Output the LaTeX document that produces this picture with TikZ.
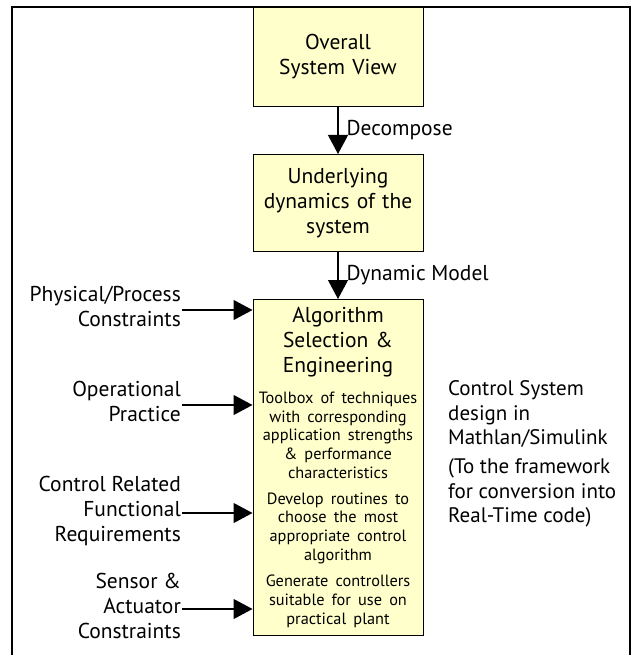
\documentclass[tikz,border=0pt]{standalone}
\usepackage{fontspec}
\setmainfont{PT Sans}
\usetikzlibrary{arrows.meta, positioning}
\definecolor{boxfill}{RGB}{255,255,204}
\newcommand{\bigfont}{\fontsize{21.5}{25}\selectfont}
\newcommand{\smallfont}{\fontsize{16.3}{18.7}\selectfont}
\newcommand{\notefont}{\fontsize{21}{24.5}\selectfont}
\tikzset{
  block/.style = {rectangle, draw=black, line width=1pt, fill=boxfill, align=center, text width=166pt, inner sep=2pt, font=\bigfont},
  line/.style = {-{Triangle[length=19pt,width=20pt]}, line width=1.2pt},
  sidelabel/.style = {align=right, font=\bigfont, inner sep=1pt, anchor=east},
  note/.style = {align=left, font=\notefont, inner sep=0pt, anchor=west},
  arrowlabel/.style = {right=6pt, font=\bigfont, inner sep=2pt},
  frame/.style = {line width=1.5pt}
}

\begin{document}
\begin{tikzpicture}[x=1pt, y=-1pt]
\useasboundingbox (0,0) rectangle (639,655);

% Outer frame
\draw[frame] (12,655) -- (12,7) -- (630,7) -- (630,655);

% Main column
\node[block, minimum height=99pt, anchor=north] (overall) at (338,7) {Overall\\System View};

\node[block, minimum height=97pt, below=47pt of overall] (dyn) {Underlying\\dynamics of the\\system};

\node[block, minimum height=336pt, below=47pt of dyn] (alg) {Algorithm\\Selection \&\\Engineering\par
\smallfont\vspace{12pt}Toolbox of techniques\\with corresponding\\application strengths\\\& performance\\characteristics\par
\vspace{7pt}Develop routines to\\choose the most\\appropriate control\\algorithm\par
\vspace{8pt}Generate controllers\\suitable for use on\\practical plant\par};

% Inputs on the left
\node[sidelabel] (phys) at (182,306) {Physical/Process\\Constraints};
\node[sidelabel] (oper) at (182,401) {Operational\\Practice};
\node[sidelabel] (req) at (182,511) {Control Related\\Functional\\Requirements};
\node[sidelabel] (sens) at (182,606) {Sensor \&\\Actuator\\Constraints};

% Output notes on the right
\node[note] (csd) at (448,414) {Control System\\design in\\Mathlan/Simulink};
\node[note] (rtc) at (448,493) {(To the framework\\for conversion into\\Real-Time code)};

% Connections
\draw[line] (overall) -- node[arrowlabel] {Decompose} (dyn);
\draw[line] (dyn) -- node[arrowlabel] {Dynamic Model} (alg);

\draw[line] ([yshift=-4pt]phys.east) -- ([yshift=-4pt]phys.east -| alg.west);
\draw[line] ([yshift=-4pt]oper.east) -- ([yshift=-4pt]oper.east -| alg.west);
\draw[line] ([yshift=-2pt]req.east) -- ([yshift=-2pt]req.east -| alg.west);
\draw[line] ([yshift=-3pt]sens.east) -- ([yshift=-3pt]sens.east -| alg.west);

\end{tikzpicture}
\end{document}
